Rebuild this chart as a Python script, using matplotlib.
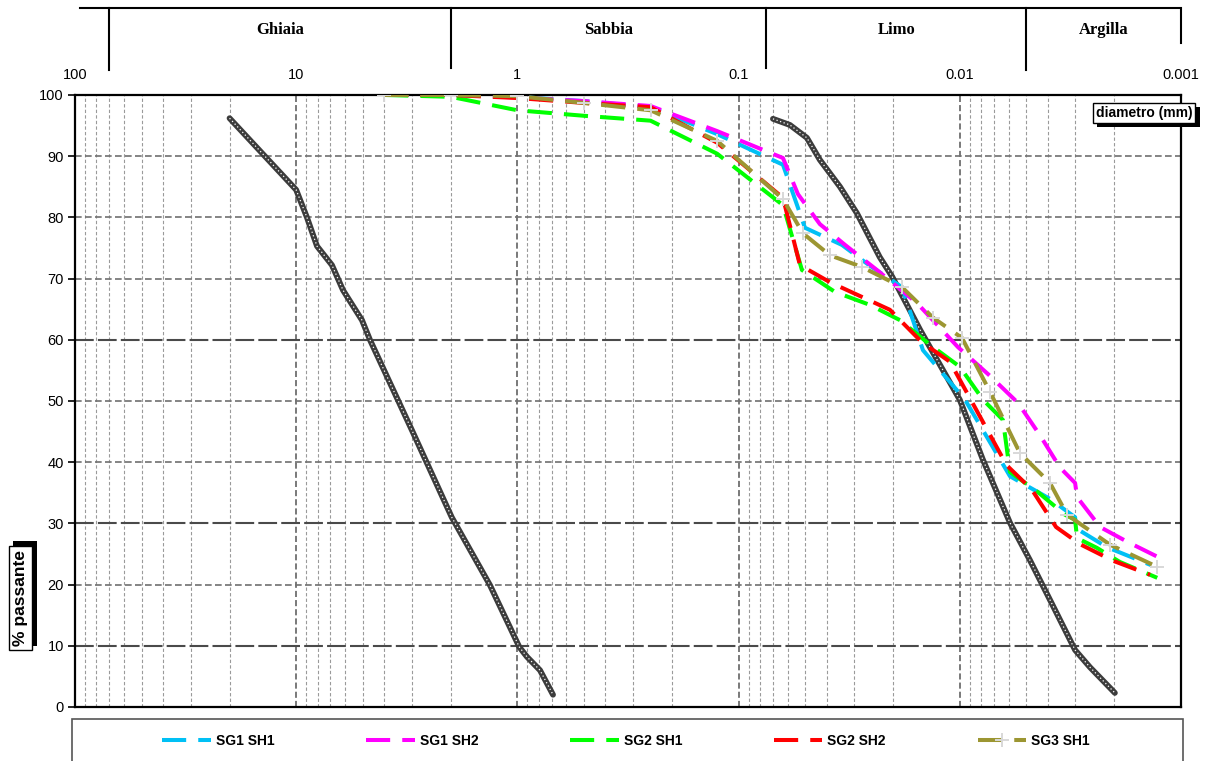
import matplotlib
matplotlib.use("Agg")
import matplotlib.pyplot as plt
import matplotlib.patheffects as pe
from matplotlib.patches import Rectangle

plt.rcParams["font.family"] = ["Liberation Sans", "DejaVu Sans"]

# -------------------------------
# Data (diametro in mm, % passante)
# -------------------------------

sg1_sh1_d = [4, 2, 1, 0.5, 0.25, 0.125, 0.063, 0.0501, 0.0341, 0.0255, 0.01825,
             0.01467, 0.00947, 0.00593, 0.00391, 0.00301, 0.00298, 0.00216, 0.00137]
sg1_sh1_p = [100, 100, 99.7, 99.0, 98.0, 93.6, 88.6, 78.3, 75.5, 72.1, 68.6,
             58.3, 50.2, 37.7, 34.0, 31.0, 29.2, 26.1, 23.2]

sg1_sh2_d = [4, 2, 1, 0.5, 0.25, 0.125, 0.063, 0.0539, 0.0429, 0.0330, 0.02368,
             0.01561, 0.01019, 0.0073, 0.00546, 0.00434, 0.00352, 0.00301, 0.00295,
             0.00232, 0.00175, 0.00127]
sg1_sh2_p = [100, 100, 99.6, 99.0, 98.2, 94.1, 89.7, 83.8, 78.9, 75.5, 71.4,
             66.0, 58.8, 54.1, 49.7, 44.4, 39.1, 36.6, 34.3, 29.4, 27.0, 24.5]

sg2_sh1_d = [4, 2, 1, 0.5, 0.25, 0.125, 0.063, 0.0517, 0.0366, 0.0255, 0.01862,
             0.01364, 0.0100, 0.00785, 0.00638, 0.00593, 0.00443, 0.00334, 0.00301,
             0.00295, 0.0024, 0.00189, 0.00128]
sg2_sh1_p = [100, 99.7, 97.5, 96.6, 95.8, 90.4, 82.0, 71.4, 67.8, 65.7, 63.2,
             59.2, 55.6, 50.2, 46.9, 38.4, 35.1, 31.4, 30.6, 27.6, 26.0, 23.7, 21.1]

sg2_sh2_d = [4, 2, 1, 0.5, 0.25, 0.125, 0.063, 0.0528, 0.0386, 0.0207, 0.01483,
             0.01107, 0.00614, 0.00472, 0.00367, 0.00286, 0.00203, 0.00138]
sg2_sh2_p = [100, 100, 99.5, 98.7, 98.0, 92.2, 83.2, 72.2, 69.4, 64.9, 59.6,
             56.4, 39.5, 35.5, 29.4, 26.6, 23.9, 21.6]

sg3_sh1_d = [4, 2, 1, 0.5, 0.25, 0.125, 0.063, 0.0512, 0.0386, 0.0277, 0.01825,
             0.0132, 0.00977, 0.0073, 0.00535, 0.00391, 0.00327, 0.00209, 0.00128]
sg3_sh1_p = [100, 100, 99.8, 98.7, 97.5, 92.5, 83.0, 77.4, 73.8, 71.9, 68.6,
             63.6, 60.3, 51.5, 41.5, 36.6, 31.4, 26.5, 22.9]

# limiti del fuso
fuso_sx_d = [20, 10, 8.94, 8.05, 6.89, 6.14, 5.04, 4.64, 2.96, 1.98, 1.33,
             0.98, 0.905, 0.79, 0.69]
fuso_sx_p = [96.2, 84.5, 80.0, 75.3, 72.2, 68.1, 63.2, 60.0, 44.8, 31.0, 19.9,
             9.8, 8.2, 6.0, 2.0]

fuso_dx_d = [0.0699, 0.0586, 0.0491, 0.0429, 0.0348, 0.0292, 0.0230, 0.0202,
             0.0151, 0.0100, 0.00786, 0.00593, 0.00482, 0.00391, 0.00301,
             0.00258, 0.00199]
fuso_dx_p = [96.1, 95.1, 93.0, 89.4, 85.0, 80.7, 73.5, 70.3, 61.6, 50.2, 40.4,
             30.1, 24.0, 17.5, 9.3, 6.5, 2.3]

series = [
    ("SG1 SH1", sg1_sh1_d, sg1_sh1_p, "#00C0F5"),
    ("SG1 SH2", sg1_sh2_d, sg1_sh2_p, "#FF00FF"),
    ("SG2 SH1", sg2_sh1_d, sg2_sh1_p, "#00FF00"),
    ("SG2 SH2", sg2_sh2_d, sg2_sh2_p, "#FF0000"),
    ("SG3 SH1", sg3_sh1_d, sg3_sh1_p, "#9C9632"),
]

# classi granulometriche
zone_limits = [70, 2, 0.075, 0.005, 0.001]
zone_names = ["Ghiaia", "Sabbia", "Limo", "Argilla"]

x_ticks = [100, 10, 1, 0.1, 0.01, 0.001]
x_tick_labels = ["100", "10", "1", "0.1", "0.01", "0.001"]

# -------------------------------
# Figure
# -------------------------------

fig = plt.figure(figsize=(12.11, 7.61), dpi=100)
ax = fig.add_axes([0.0619, 0.0710, 0.9133, 0.8042])

ax.set_xscale("log")
ax.set_xlim(100, 0.001)
ax.set_ylim(0, 100)

# grid
for dec in [10, 1, 0.1, 0.01, 0.001]:
    for k in range(2, 10):
        ax.axvline(dec * k, color="#9a9a9a", lw=0.8, ls=(0, (3, 2)), zorder=1)
for dec in [10, 1, 0.1, 0.01]:
    ax.axvline(dec, color="#555555", lw=1.1, ls=(0, (4, 2)), zorder=1)
for y in range(10, 100, 10):
    if y in (10, 30, 60):
        ax.axhline(y, color="#4a4a4a", lw=1.5, ls=(0, (9, 2)), zorder=1)
    else:
        ax.axhline(y, color="#707070", lw=1.2, ls=(0, (4, 2)), zorder=1)

# fuso
for d, p in [(fuso_sx_d, fuso_sx_p), (fuso_dx_d, fuso_dx_p)]:
    ax.plot(d, p, color="#3c3c3c", lw=4.2, solid_capstyle="round", zorder=3)
    ax.plot(d, p, color="white", lw=0.9, ls=(0, (1, 2)), zorder=3)

# curve granulometriche
for name, d, p, col in series:
    if name == "SG3 SH1":
        ax.plot(d, p, color=col, lw=2.9, ls=(0, (6, 3)), marker="+",
                markersize=10, markeredgecolor="#d8d8d8", markeredgewidth=1.4,
                label=name, zorder=5)
    else:
        ax.plot(d, p, color=col, lw=2.9, ls=(0, (6, 3)), label=name, zorder=4)

# axes
for s in ax.spines.values():
    s.set_linewidth(1.6)
    s.set_color("black")

ax.xaxis.tick_top()
ax.set_xticks(x_ticks)
ax.set_xticklabels(x_tick_labels)
ax.xaxis.set_minor_locator(matplotlib.ticker.NullLocator())
ax.tick_params(axis="x", length=0, pad=9, labelsize=10.5)
ax.set_yticks(range(0, 101, 10))
ax.tick_params(axis="y", length=5, width=1.2, pad=3, labelsize=10.5)

# -------------------------------
# Header with soil classes
# -------------------------------

tr = ax.get_xaxis_transform()
ax.plot([0.0045, 0.998], [1.142, 1.142], transform=ax.transAxes,
        color="black", lw=1.5, clip_on=False)
div_tops = [1.041, 1.044, 1.044, 1.041, 1.085]
for lim, yb in zip(zone_limits, div_tops):
    ax.plot([lim, lim], [yb, 1.142], transform=tr, color="black", lw=1.5,
            clip_on=False)
for i, name in enumerate(zone_names):
    xc = (zone_limits[i] * zone_limits[i + 1]) ** 0.5
    ax.text(xc, 1.106, name, transform=tr, ha="center", va="center",
            fontsize=12, fontweight="bold", family="Liberation Serif")

# -------------------------------
# Labels in boxes
# -------------------------------

t1 = fig.text(1144 / 1211, 1 - 113 / 761, "diametro (mm)", ha="center",
              va="center", fontsize=10, fontweight="bold",
              bbox=dict(boxstyle="square,pad=0.22", fc="white", ec="black", lw=1))
t1.get_bbox_patch().set_path_effects([
    pe.SimplePatchShadow(offset=(3, -3), shadow_rgbFace="black", alpha=1),
    pe.Normal()])

t2 = fig.text(20.5 / 1211, 1 - 598 / 761, "% passante", ha="center",
              va="center", rotation=90, fontsize=12.5, fontweight="bold",
              bbox=dict(boxstyle="square,pad=0.25", fc="white", ec="black", lw=1))
t2.get_bbox_patch().set_path_effects([
    pe.SimplePatchShadow(offset=(3, 3), shadow_rgbFace="black", alpha=1),
    pe.Normal()])

# -------------------------------
# Legend
# -------------------------------

fig.patches.append(Rectangle((72 / 1211, -0.05), 1111 / 1211, 0.0552 + 0.05,
                             transform=fig.transFigure, fc="white",
                             ec="#555555", lw=1.2, zorder=0))
fig.legend(loc="center", bbox_to_anchor=(0.517, 0.0263), ncol=5,
           frameon=False, prop=dict(weight="bold", size=10),
           handlelength=3.5, handletextpad=0.36, columnspacing=6.6,
           numpoints=1)

plt.savefig("out.png", dpi=100)
plt.close()
